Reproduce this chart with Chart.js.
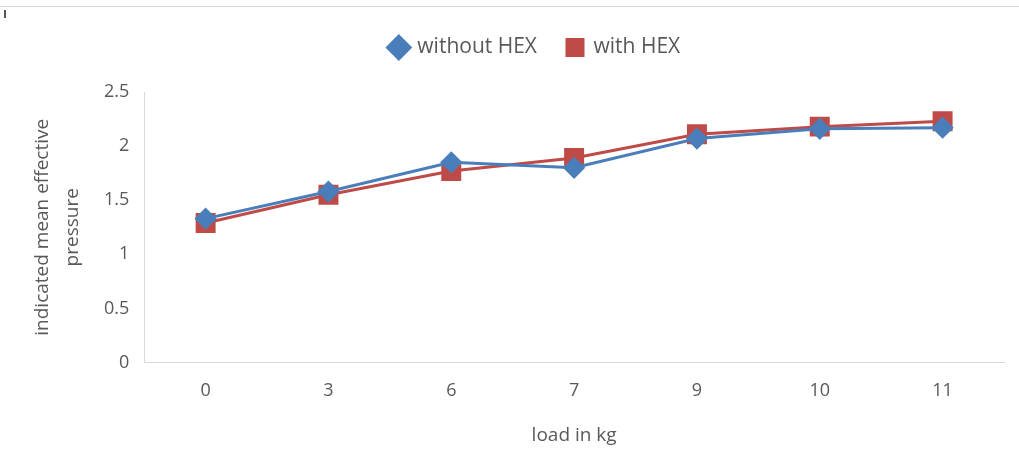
<!DOCTYPE html>
<html>
<head>
<meta charset="utf-8">
<script src="https://cdn.jsdelivr.net/npm/chart.js@4"></script>
<style>
    html, body { margin: 0; padding: 0; background: #fff; }
    #wrap { position: relative; width: 1019px; height: 466px; }
    #topLine { position: absolute; left: 0; top: 6px; width: 1019px; height: 1px; background: #d9d9d9; }
    #tick { position: absolute; left: 4px; top: 10px; width: 2px; height: 8px; background: #555; }
    canvas { position: absolute; left: 0; top: 0; }
</style>
</head>
<body>
<div id="wrap">
    <div id="topLine"></div>
    <div id="tick"></div>
    <canvas id="chart" width="1019" height="466"></canvas>
</div>
<script>
// 데이터
const loads = ['0', '3', '6', '7', '9', '10', '11'];
const withoutHex = [1.33, 1.58, 1.85, 1.80, 2.07, 2.16, 2.17];
const withHex = [1.29, 1.55, 1.77, 1.89, 2.11, 2.18, 2.23];
const yTicks = [0, 0.5, 1, 1.5, 2, 2.5];

const textColor = '#595959';
const fontFamily = "'Open Sans', 'Liberation Sans', sans-serif";

// 범례 아래 여백 + 오른쪽으로 조금 이동
const legendTweak = {
    id: 'legendTweak',
    beforeInit(chart) {
        const origFit = chart.legend.fit;
        chart.legend.fit = function() {
            origFit.bind(chart.legend)();
            this.height += 24;
        };
    },
    afterLayout(chart) {
        chart.legend.left += 21;
        chart.legend.right += 21;
    }
};

const ctx = document.getElementById('chart');

new Chart(ctx, {
    type: 'line',
    data: {
        labels: loads,
        datasets: [{
            label: 'without HEX',
            data: withoutHex,
            borderColor: '#4a7ebb',
            backgroundColor: '#4a7ebb',
            borderWidth: 3,
            pointStyle: 'rectRot',
            pointRadius: 9,
            pointHoverRadius: 9,
            tension: 0
        }, {
            label: 'with HEX',
            data: withHex,
            borderColor: '#be4b48',
            backgroundColor: '#be4b48',
            borderWidth: 3,
            pointStyle: 'rect',
            pointRadius: 12,
            pointHoverRadius: 12,
            tension: 0
        }]
    },
    options: {
        responsive: false,
        animation: false,
        layout: {
            padding: { top: 7, right: 14, left: 24, bottom: 15 }
        },
        plugins: {
            legend: {
                position: 'top',
                labels: {
                    usePointStyle: true,
                    color: textColor,
                    font: { family: fontFamily, size: 21 },
                    boxWidth: 16,
                    boxHeight: 16,
                    padding: 30
                }
            },
            tooltip: { enabled: false }
        },
        scales: {
            x: {
                offset: true,
                grid: { display: false, drawTicks: false },
                border: { color: '#d9d9d9', width: 1 },
                ticks: {
                    color: textColor,
                    font: { family: fontFamily, size: 18 },
                    padding: 17
                },
                title: {
                    display: true,
                    text: 'load in kg',
                    color: textColor,
                    font: { family: fontFamily, size: 19 },
                    padding: { top: 6 }
                }
            },
            y: {
                min: 0,
                max: 2.5,
                afterBuildTicks: scale => {
                    scale.ticks = yTicks.map(v => ({ value: v }));
                },
                grid: { display: false, drawTicks: false },
                border: { color: '#d9d9d9', width: 1 },
                ticks: {
                    color: textColor,
                    font: { family: fontFamily, size: 18 },
                    padding: 15,
                    callback: value => String(value)
                },
                title: {
                    display: true,
                    text: ['indicated mean effective', 'pressure'],
                    color: textColor,
                    font: { family: fontFamily, size: 19, lineHeight: 1.55 },
                    padding: { top: 4, bottom: 2 }
                }
            }
        }
    },
    plugins: [legendTweak]
});
</script>
</body>
</html>
